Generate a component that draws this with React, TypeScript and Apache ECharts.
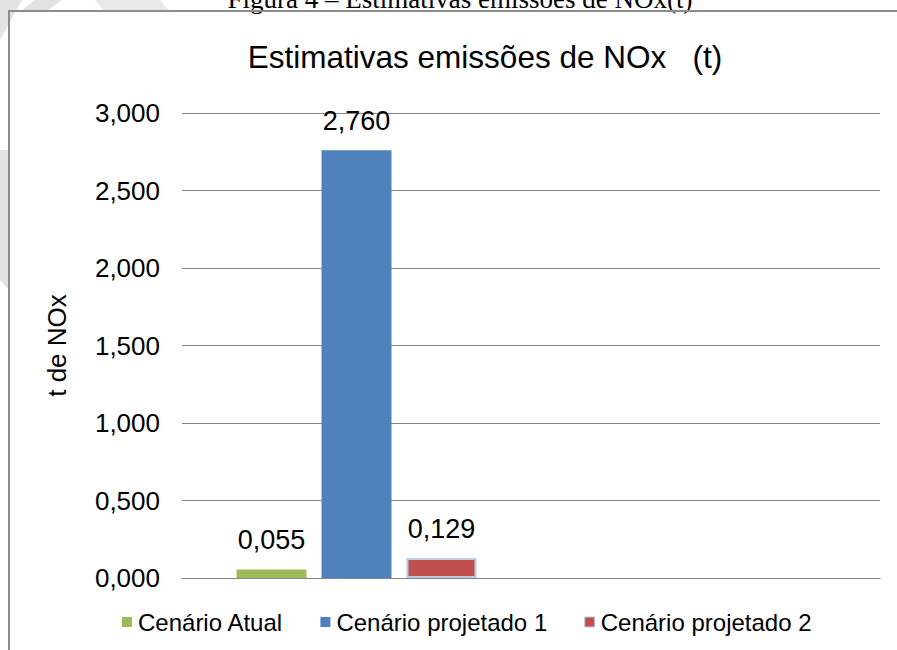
import React, { useEffect, useRef } from "react";
import * as echarts from "echarts";

const categories = ["", ""];
const seriesNames = ["Cenário Atual", "Cenário projetado 1", "Cenário projetado 2"];
const valuesAtual = [0.055, null];
const valuesProj1 = [2.76, null];
const valuesProj2 = [0.129, null];
const colors = ["#9bbb59", "#4f81bd", "#c0504d"];
const chartTitle = "Estimativas emissões de NOx   (t)";
const caption = "Figura 4 – Estimativas emissões de NOx(t)";
const yAxisName = "t de NOx";

const fmt = (v: number) => v.toFixed(3).replace(".", ",");
const FONT = "Liberation Sans, Arial, sans-serif";

export default function App() {
  const ref = useRef<HTMLDivElement>(null);
  useEffect(() => {
    document.body.style.margin = "0";
    const chart = echarts.init(ref.current!, null, { renderer: "svg" });
    const labelStyle = {
      show: true,
      position: "top" as const,
      distance: 16,
      fontSize: 27,
      color: "#000",
      fontFamily: FONT,
      formatter: (p: any) => fmt(p.value),
    };
    chart.setOption({
      animation: false,
      backgroundColor: "#fff",
      title: {
        text: chartTitle,
        left: 480,
        textAlign: "center",
        top: 36,
        textStyle: { fontSize: 31.5, fontWeight: "normal", color: "#000", fontFamily: FONT },
      },
      legend: {
        left: 117,
        top: 605,
        icon: "rect",
        itemWidth: 10,
        itemHeight: 10,
        itemGap: 37,
        textStyle: { fontSize: 24, color: "#000", fontFamily: FONT, padding: [0, 0, 0, 1] },
        data: [
          { name: seriesNames[0] },
          { name: seriesNames[1] },
          { name: seriesNames[2], itemStyle: { borderColor: "#b9cde5", borderWidth: 1 } },
        ],
      },
      grid: { left: 182, right: 17, top: 113, bottom: 72 },
      xAxis: {
        type: "category",
        data: categories,
        axisLabel: { show: false },
        axisTick: { show: false },
        axisLine: { show: true, lineStyle: { color: "#868686", width: 1 } },
      },
      yAxis: {
        type: "value",
        min: 0,
        max: 3,
        interval: 0.5,
        name: yAxisName,
        nameLocation: "middle",
        nameRotate: 90,
        nameGap: 112,
        nameTextStyle: { fontSize: 26, color: "#000", fontFamily: FONT },
        axisLabel: {
          fontSize: 26,
          color: "#000",
          fontFamily: FONT,
          margin: 22,
          formatter: (v: number) => fmt(v),
        },
        axisLine: { show: false },
        axisTick: { show: false },
        splitLine: { lineStyle: { color: "#868686", width: 1 } },
      },
      series: [
        {
          name: seriesNames[0],
          type: "bar",
          data: valuesAtual,
          barWidth: 70,
          barGap: "21.4%",
          itemStyle: { color: colors[0] },
          label: labelStyle,
        },
        {
          name: seriesNames[1],
          type: "bar",
          data: valuesProj1,
          barWidth: 70,
          barGap: "21.4%",
          itemStyle: { color: colors[1] },
          label: labelStyle,
        },
        {
          name: seriesNames[2],
          type: "bar",
          data: valuesProj2,
          barWidth: 70,
          barGap: "21.4%",
          itemStyle: { color: colors[2], borderColor: "#b9cde5", borderWidth: 2 },
          label: labelStyle,
        },
      ],
      graphic: [
        { type: "polygon", z: -10, shape: { points: [[0, 0], [22, 0], [0, 40]] }, style: { fill: "#e2e2e2" } },
        { type: "polygon", z: -10, shape: { points: [[35, 0], [62, 0], [45, 12], [20, 12]] }, style: { fill: "#e2e2e2" } },
        { type: "polygon", z: -10, shape: { points: [[95, 0], [160, 0], [170, 12], [105, 12]] }, style: { fill: "#e8e8e8" } },
        { type: "polygon", z: -10, shape: { points: [[0, 150], [9, 150], [9, 290], [0, 280]] }, style: { fill: "#e2e2e2" } },
        {
          type: "text",
          z: 99,
          x: 460,
          y: 12,
          style: {
            text: caption,
            fontSize: 27,
            fontFamily: "Liberation Serif, Times New Roman, serif",
            fill: "#000",
            textAlign: "center",
            textVerticalAlign: "bottom",
          },
        },
        {
          type: "rect",
          z: 100,
          shape: { x: 9, y: 11, width: 900, height: 700 },
          style: { fill: "none", stroke: "#8c8c8c", lineWidth: 2 },
        },
      ],
    });
    return () => chart.dispose();
  }, []);
  return (
    <div
      ref={ref}
      style={{ position: "absolute", left: 0, top: 0, width: 897, height: 650, background: "#fff" }}
    />
  );
}
